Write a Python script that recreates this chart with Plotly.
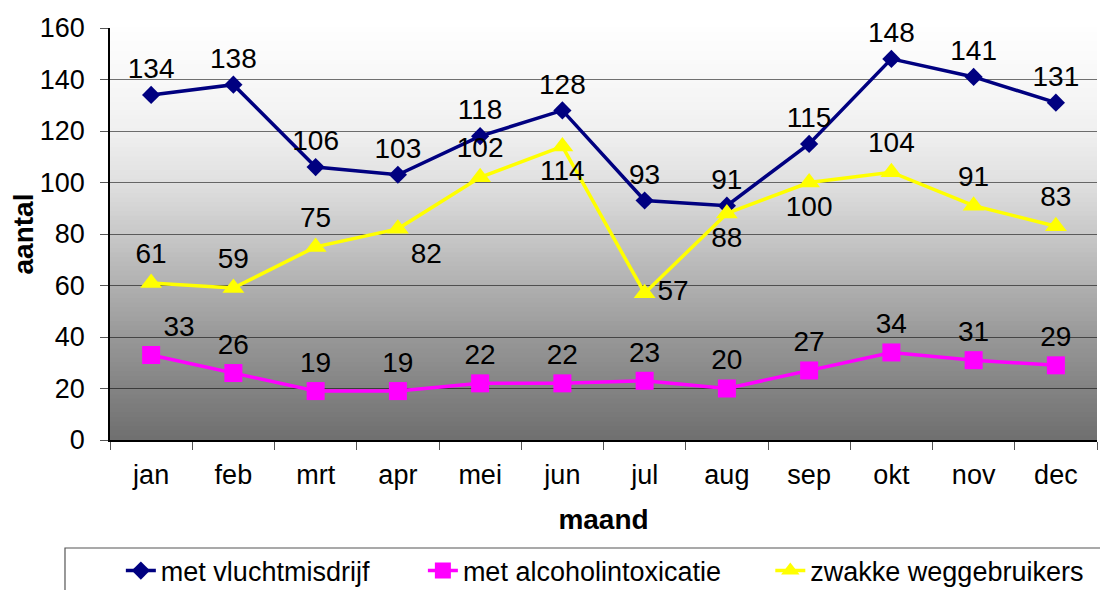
import plotly.graph_objects as go

months = ["jan", "feb", "mrt", "apr", "mei", "jun", "jul", "aug", "sep", "okt", "nov", "dec"]
vlucht = [134, 138, 106, 103, 118, 128, 93, 91, 115, 148, 141, 131]
alcohol = [33, 26, 19, 19, 22, 22, 23, 20, 27, 34, 31, 29]
zwakke = [61, 59, 75, 82, 102, 114, 57, 88, 100, 104, 91, 83]

pos_vlucht = ["top center"] * 12
pos_alcohol = ["top right"] + ["top center"] * 11
pos_zwakke = ["top center", "top center", "top center", "bottom right", "top center",
              "bottom center", "middle right", "bottom center", "bottom center",
              "top center", "top center", "top center"]

FONT = "Liberation Sans, Arial, sans-serif"
FS = 27
LBL = dict(family=FONT, size=28, color="black")

fig = go.Figure()
fig.add_trace(go.Scatter(
    x=months, y=vlucht, name="met vluchtmisdrijf", mode="lines+markers+text",
    line=dict(color="#000080", width=3.5),
    marker=dict(symbol="diamond", size=14, color="#000080"),
    text=[str(v) for v in vlucht], textposition=pos_vlucht, textfont=LBL,
    cliponaxis=False, legend="legend"))
fig.add_trace(go.Scatter(
    x=months, y=alcohol, name="met alcoholintoxicatie", mode="lines+markers+text",
    line=dict(color="#FF00FF", width=3.5),
    marker=dict(symbol="square", size=18, color="#FF00FF"),
    text=[str(v) for v in alcohol], textposition=pos_alcohol, textfont=LBL,
    cliponaxis=False, legend="legend2"))
fig.add_trace(go.Scatter(
    x=months, y=zwakke, name="zwakke weggebruikers", mode="lines+markers+text",
    line=dict(color="#FFFF00", width=3.5),
    marker=dict(symbol="triangle-up", size=19, color="#FFFF00"),
    text=[str(v) for v in zwakke], textposition=pos_zwakke, textfont=LBL,
    cliponaxis=False, legend="legend3"))

# vertical gradient background of plot area (decoration)
stops = [(0.0, 111), (0.125, 131), (0.25, 152), (0.375, 176), (0.5, 200),
         (0.625, 224), (0.75, 240), (0.875, 248), (1.0, 254)]
N = 90
shapes = []
for i in range(N):
    f0, f1 = i / N, (i + 1) / N
    fm = (f0 + f1) / 2
    for j in range(len(stops) - 1):
        a, ca = stops[j]
        b, cb = stops[j + 1]
        if a <= fm <= b:
            c = int(round(ca + (cb - ca) * (fm - a) / (b - a)))
            break
    shapes.append(dict(type="rect", xref="x domain", yref="y domain",
                       x0=0, x1=1, y0=f0, y1=f1 + 0.002, layer="below",
                       line=dict(width=0), fillcolor=f"rgb({c},{c},{c})"))
# legend frame
shapes.append(dict(type="rect", xref="paper", yref="paper",
                   x0=-0.0456, x1=1.03, y0=-0.42, y1=-0.2621,
                   line=dict(color="#555555", width=1.2), fillcolor="rgba(0,0,0,0)"))

LEG = dict(orientation="h", xanchor="left", yanchor="middle", y=-0.318,
           font=dict(family=FONT, size=FS, color="black"),
           bgcolor="rgba(0,0,0,0)", borderwidth=0)

fig.update_layout(
    width=1100, height=582,
    margin=dict(l=102, r=11, t=20, b=150, autoexpand=False),
    paper_bgcolor="white", plot_bgcolor="white",
    font=dict(family=FONT, size=FS, color="black"),
    showlegend=True,
    legend=dict(LEG, x=0.011),
    legend2=dict(LEG, x=0.317),
    legend3=dict(LEG, x=0.669),
    shapes=shapes,
    xaxis=dict(
        type="category", showgrid=False, showline=True, linecolor="black", linewidth=1.5,
        ticks="outside", ticklen=8, tickcolor="#555555", tickson="boundaries",
        tickfont=dict(family=FONT, size=FS, color="black"), ticklabelstandoff=10,
        title=dict(text="<b>maand</b>", font=dict(family=FONT, size=28, color="black"),
                   standoff=20),
        range=[-0.5, 11.5]),
    yaxis=dict(
        range=[0, 160], dtick=20, showgrid=True, gridcolor="rgba(0,0,0,0.55)", gridwidth=1,
        showline=True, linecolor="black", linewidth=1.5, zeroline=False,
        ticks="outside", ticklen=8, tickcolor="#555555",
        tickfont=dict(family=FONT, size=FS, color="black"), ticklabelstandoff=10,
        title=dict(text="<b>aantal</b>", font=dict(family=FONT, size=28, color="black"),
                   standoff=6)),
)

fig.write_html("out.html")
